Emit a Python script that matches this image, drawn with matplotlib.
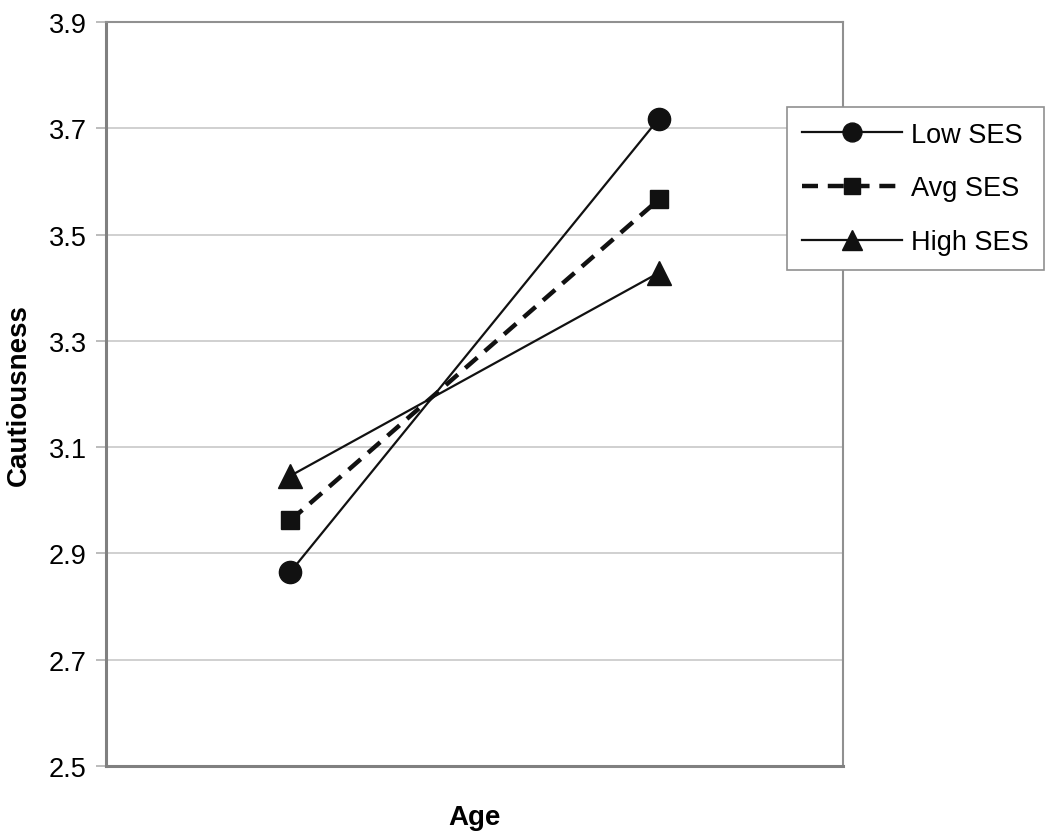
import matplotlib.pyplot as plt

plt.rcParams['font.family'] = ['Liberation Sans', 'DejaVu Sans']

# data
age_pos = [1, 3]
low_ses = [2.865, 3.718]
avg_ses = [2.962, 3.566]
high_ses = [3.046, 3.428]
y_ticks = [2.5, 2.7, 2.9, 3.1, 3.3, 3.5, 3.7, 3.9]

fig = plt.figure(figsize=(10.5, 8.37), dpi=100)
ax = fig.add_axes([0.101, 0.0836, 0.702, 0.889])

ax.plot(age_pos, low_ses, color='#111111', lw=1.6, marker='o', ms=16, label='Low SES')
ax.plot(age_pos, avg_ses, color='#111111', lw=3.2, ls=(0, (3.6, 2.2)), marker='s', ms=13,
        label='Avg SES')
ax.plot(age_pos, high_ses, color='#111111', lw=1.6, marker='^', ms=17, label='High SES')

ax.set_xlim(0, 4)
ax.set_ylim(2.5, 3.9)
ax.set_yticks(y_ticks)
ax.set_yticklabels(['%.1f' % v for v in y_ticks])
ax.set_xticks([])
ax.yaxis.grid(True, color='#c8c8c8', lw=1.2)
ax.set_axisbelow(True)
ax.tick_params(axis='y', labelsize=19.5, length=7, width=1.2, color='#b0b0b0', pad=7)

for side in ['left', 'bottom']:
    ax.spines[side].set_color('#808080')
    ax.spines[side].set_linewidth(2.2)
for side in ['top', 'right']:
    ax.spines[side].set_color('#909090')
    ax.spines[side].set_linewidth(1.5)

ax.set_ylabel('Cautiousness', fontsize=20, fontweight='bold', labelpad=12)
ax.set_xlabel('Age', fontsize=20, fontweight='bold', labelpad=27)

leg = fig.legend(loc='upper left', bbox_to_anchor=(0.7495, 0.871), borderaxespad=0,
                 fontsize=19.5, fancybox=False, edgecolor='#909090', framealpha=1,
                 handlelength=3.7, markerscale=0.85, labelspacing=1.02, borderpad=0.55,
                 handletextpad=0.33)
leg.get_frame().set_linewidth(1.2)

fig.savefig('out.png', dpi=100)
